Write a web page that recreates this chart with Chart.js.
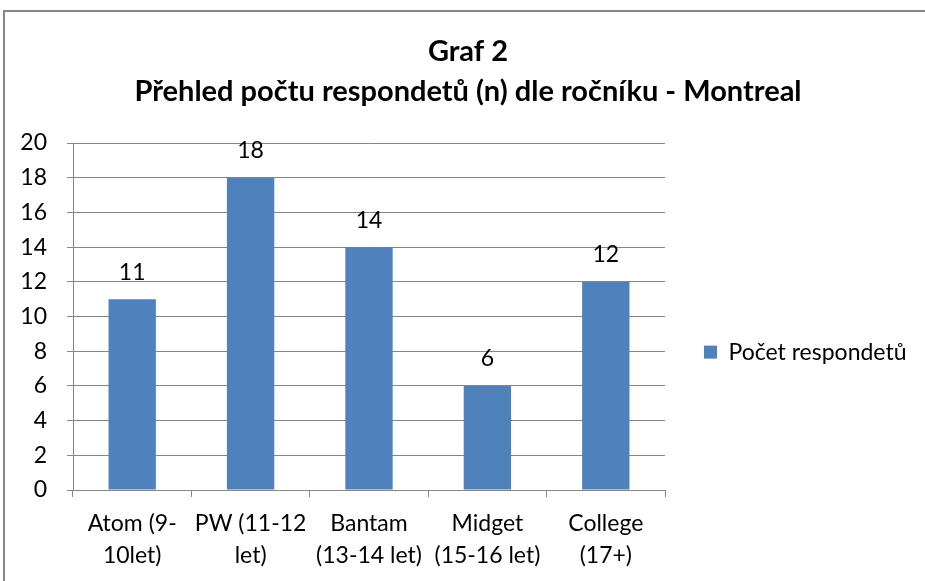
<!DOCTYPE html>
<html>
<head>
<meta charset="utf-8">
<script src="https://cdn.jsdelivr.net/npm/chart.js"></script>
<style>
  html, body { margin: 0; padding: 0; background: #fff; }
  #wrap { width: 925px; height: 581px; position: relative; }
</style>
</head>
<body>
<div id="wrap"><canvas id="myChart" width="925" height="581"></canvas></div>
<script>
var categories = [
  ["Atom (9-", "10let)"],
  ["PW (11-12", "let)"],
  ["Bantam", "(13-14 let)"],
  ["Midget", "(15-16 let)"],
  ["College", "(17+)"]
];
var values = [11, 18, 14, 6, 12];
var seriesName = "Počet respondetů";
var titleLines = ["Graf 2", "Přehled počtu respondetů (n) dle ročníku - Montreal"];

var font = "Lato";
var gray = "#868686";

// frame around the whole chart (right and bottom edges are cut off)
var framePlugin = {
  id: 'frame',
  beforeDraw: function(chart) {
    var c = chart.ctx;
    c.save();
    c.fillStyle = "#fff";
    c.fillRect(0, 0, chart.width, chart.height);
    c.strokeStyle = gray;
    c.lineWidth = 2;
    c.strokeRect(4, 11, 960, 620);
    c.restore();
  }
};

// legend box is capped in width by the layout, let it use the rest of the canvas
var legendRoom = {
  id: 'legendRoom',
  afterLayout: function(chart) {
    if (chart.legend) {
      chart.legend.right = chart.width;
      chart.legend.width = chart.width - chart.legend.left;
    }
  }
};

// value labels above the bars
var valueLabels = {
  id: 'valueLabels',
  afterDatasetsDraw: function(chart) {
    var c = chart.ctx;
    c.save();
    c.font = "23px " + font;
    c.fillStyle = "#000";
    c.textAlign = "center";
    c.textBaseline = "middle";
    chart.getDatasetMeta(0).data.forEach(function(bar, i) {
      c.fillText(chart.data.datasets[0].data[i], bar.x, bar.y - 27);
    });
    c.restore();
  }
};

var ctx = document.getElementById("myChart").getContext('2d');
var myChart = new Chart(ctx, {
  type: 'bar',
  data: {
    labels: categories,
    datasets: [{
      label: seriesName,
      data: values,
      backgroundColor: "#4F81BD",
      borderWidth: 0,
      barPercentage: 1,
      categoryPercentage: 0.4
    }]
  },
  options: {
    responsive: false,
    animation: false,
    layout: { padding: { left: 18, right: 7, top: 0, bottom: 9 } },
    plugins: {
      title: {
        display: true,
        text: titleLines,
        color: "#000",
        font: { family: font, size: 29, weight: 'bold', lineHeight: 1.38 },
        padding: { top: 32, bottom: 31 }
      },
      legend: {
        position: 'right',
        fullSize: false,
        title: { display: true, text: '', font: { size: 1 }, padding: { top: 35, bottom: 35 } },
        labels: {
          color: "#000",
          font: { family: font, size: 23 },
          boxWidth: 13,
          boxHeight: 13,
          padding: 39
        }
      },
      tooltip: { enabled: false }
    },
    scales: {
      x: {
        grid: { drawOnChartArea: false, drawTicks: true, tickLength: 7, color: gray },
        border: { color: gray },
        ticks: { color: "#000", font: { family: font, size: 23, lineHeight: 1.39 }, padding: 11, maxRotation: 0, autoSkip: false },
        afterFit: function(s) { s.paddingLeft = 0; s.paddingRight = 260; s.height = 82; }
      },
      y: {
        min: 0,
        max: 20,
        grid: { color: gray, tickLength: 6 },
        border: { color: gray },
        ticks: { stepSize: 2, color: "#000", font: { family: font, size: 23 }, padding: 20 },
        afterFit: function(s) { s.width = 55; }
      }
    }
  },
  plugins: [framePlugin, legendRoom, valueLabels]
});
</script>
</body>
</html>
